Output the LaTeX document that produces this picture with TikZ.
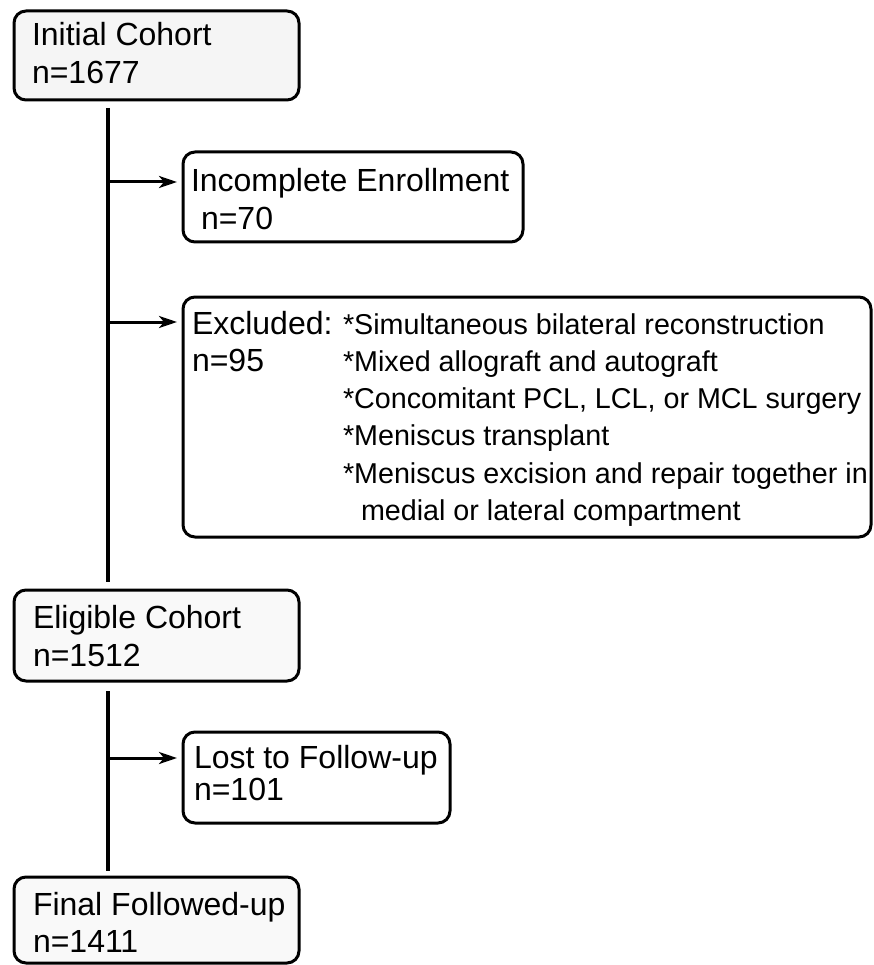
\documentclass[tikz,border=0pt]{standalone}
\usepackage{fontspec}
\setmainfont{Liberation Sans}
\usetikzlibrary{arrows.meta,calc}
\begin{document}
\begin{tikzpicture}[x=1pt,y=-1pt,
  box/.style={draw=black, line width=3pt, rounded corners=12pt, anchor=north west, inner sep=0pt, outer sep=0pt},
  lbl/.style={anchor=base west, inner sep=0pt, outer sep=0pt},
  trunkline/.style={line width=4.5pt},
  arr/.style={line width=3pt, shorten >=6pt, -{Stealth[length=18pt,width=12pt,inset=5pt]}}]
\useasboundingbox (0,0) rectangle (874,965);
% boxes
\node[box, fill=gray!8, minimum width=285pt, minimum height=89pt] (init) at (14,11) {};
\node[box, minimum width=340pt, minimum height=90pt] (inc) at (183,152) {};
\node[box, minimum width=688pt, minimum height=240pt] (excl) at (183,297) {};
\node[box, fill=gray!5, minimum width=285pt, minimum height=91pt] (elig) at (14,590) {};
\node[box, minimum width=267pt, minimum height=91pt] (lost) at (183,732) {};
\node[box, fill=gray!5, minimum width=285pt, minimum height=86pt] (final) at (14,877) {};
% texts
\node[lbl, font=\fontsize{32}{38}\selectfont] (initT) at (32,46)
  {\begin{tabular}[t]{@{}l@{}}Initial Cohort\\n=1677\end{tabular}};
\node[lbl, font=\fontsize{32}{37.5}\selectfont] (incT) at (191,192)
  {\begin{tabular}[t]{@{}l@{}}Incomplete Enrollment\\\hspace{10pt}n=70\end{tabular}};
\node[lbl, font=\fontsize{32}{37.3}\selectfont] (exclL) at (192,334)
  {\begin{tabular}[t]{@{}l@{}}Excluded:\\n=95\end{tabular}};
\node[lbl, font=\fontsize{28.7}{37.3}\selectfont] (exclR) at (343,334)
  {\begin{tabular}[t]{@{}l@{}}*Simultaneous bilateral reconstruction\\{}%
   *Mixed allograft and autograft\\{}%
   *Concomitant PCL, LCL, or MCL surgery\\{}%
   *Meniscus transplant\\{}%
   *Meniscus excision and repair together in\\{}%
   \hspace{18pt}medial or lateral compartment\end{tabular}};
\node[lbl, font=\fontsize{32}{38}\selectfont] (eligT) at (33,628)
  {\begin{tabular}[t]{@{}l@{}}Eligible Cohort\\n=1512\end{tabular}};
\node[lbl, font=\fontsize{32}{32.5}\selectfont] (lostT) at (194,768)
  {\begin{tabular}[t]{@{}l@{}}Lost to Follow-up\\n=101\end{tabular}};
\node[lbl, font=\fontsize{32}{37}\selectfont] (finalT) at (33,915)
  {\begin{tabular}[t]{@{}l@{}}Final Followed-up\\n=1411\end{tabular}};
% trunk
\coordinate (tx) at (108,0);
\draw[trunkline] ($(init.south -| tx)+(0,8)$) -- ($(elig.north -| tx)+(0,-8)$);
\draw[trunkline] ($(elig.south -| tx)+(0,10)$) -- ($(final.north -| tx)+(0,-6)$);
% arrows
\coordinate (aInc) at ($(inc.north west)+(0,30)$);
\coordinate (aExcl) at ($(excl.north west)+(0,25)$);
\coordinate (aLost) at ($(lost.north west)+(0,26)$);
\draw[arr] (aInc -| tx) -- (aInc);
\draw[arr] (aExcl -| tx) -- (aExcl);
\draw[arr] (aLost -| tx) -- (aLost);
\end{tikzpicture}
\end{document}
